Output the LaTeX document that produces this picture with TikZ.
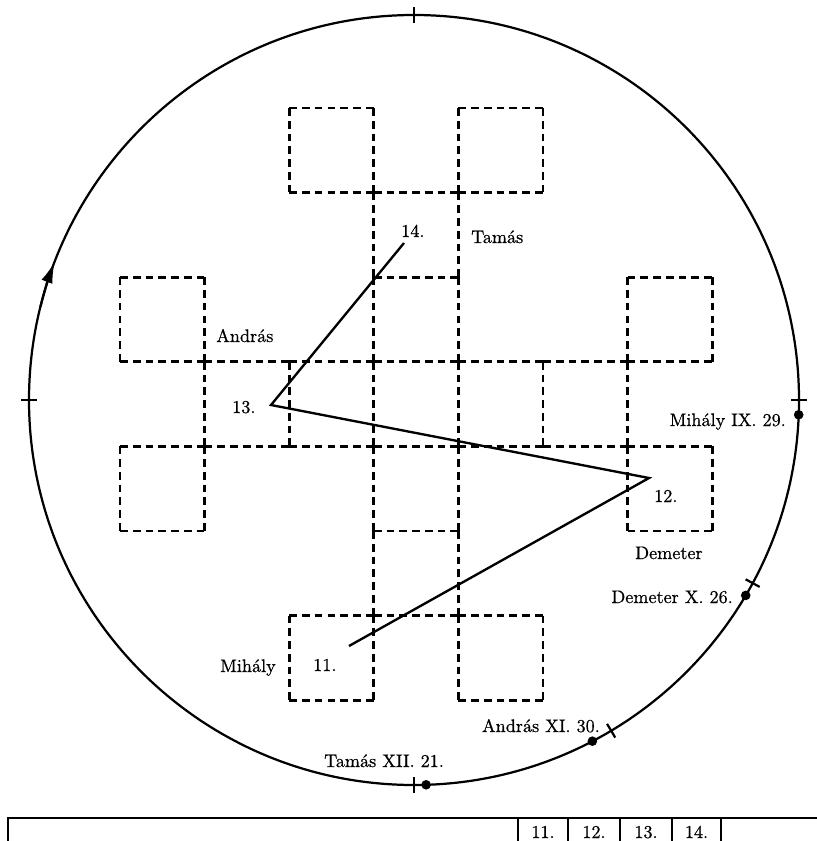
\documentclass[tikz,border=0pt]{standalone}
\usepackage{fontspec}
\newfontfamily\lblfont{lmroman10-regular.otf}[FakeBold=0.6]
\usetikzlibrary{arrows.meta}
\begin{document}
\begin{tikzpicture}[x=0.03cm,y=-0.03cm,
  gridline/.style={line width=2.3pt,dash pattern=on 6.6pt off 4.3pt},
  rim/.style={line width=1.9pt},
  route/.style={line width=2pt,line join=miter},
  lbl/.style={inner sep=0pt,font=\lblfont\fontsize{15.5}{18}\selectfont},
  dotmark/.style={fill=black},
  tablel/.style={line width=2.3pt}]
\useasboundingbox (0,0) rectangle (817,841);
% grid: horizontal unit edges (row j, column i)
\foreach \j/\i in {0/2,0/4,
  1/2,1/3,1/4,
  2/0,2/3,2/6,
  3/0,3/1,3/2,3/3,3/4,3/5,3/6,
  4/0,4/1,4/2,4/3,4/4,4/5,4/6,
  5/0,5/3,5/6,
  6/2,6/3,6/4,
  7/2,7/4}
  \draw[gridline] ({120+84.6*\i},{108+84.6*\j}) -- ++(84.6,0);
% grid: vertical unit edges (column i, row j)
\foreach \i/\j in {0/2,0/4,
  1/2,1/3,1/4,
  2/0,2/3,2/6,
  3/0,3/1,3/2,3/3,3/4,3/5,3/6,
  4/0,4/1,4/2,4/3,4/4,4/5,4/6,
  5/0,5/3,5/6,
  6/2,6/3,6/4,
  7/2,7/4}
  \draw[gridline] ({120+84.6*\i},{108+84.6*\j}) -- ++(0,84.6);
% rim circle
\coordinate (C) at (414,400);
\draw[rim] (C) circle[radius=385];
\draw[rim,-{Latex[length=18pt,width=10pt]}] (C) ++(194:385) arc[start angle=194,end angle=201,radius=385];
% ticks
\foreach \a in {0,28.4,59.2,90,180,270}
  \draw[rim] (C) ++(\a:377) -- ++(\a:16);
% dots
\foreach \a in {2.2,30.5,62.4,88.2}
  \fill[dotmark] (C) ++(\a:385) circle[radius=4.8];
% route
\coordinate (p11) at (349,646);
\coordinate (p12) at (649,478);
\coordinate (p13) at (271,405);
\coordinate (p14) at (404,243);
\draw[route] (p11) -- (p12) -- (p13) -- (p14);
% labels
\node[lbl,anchor=base west] (n11) at (313,671) {11.};
\node[lbl,anchor=base west] (n12) at (654,502) {12.};
\node[lbl,anchor=base west] (n13) at (232,413) {13.};
\node[lbl,anchor=base west] (n14) at (401,237) {14.};
\node[lbl,anchor=base west] (tamas) at (471,243) {Tamás};
\node[lbl,anchor=base west] (andras) at (216,342) {András};
\node[lbl,anchor=base west] (mihaly) at (220,672) {Mihály};
\node[lbl,anchor=base west] (demeter) at (635,559) {Demeter};
\node[lbl,anchor=base east] (dmihaly) at (786,426) {Mihály IX. 29.};
\node[lbl,anchor=base east] (ddemeter) at (733,603) {Demeter X. 26.};
\node[lbl,anchor=base east] (dandras) at (600,732) {András XI. 30.};
\node[lbl,anchor=base west] (dtamas) at (324,767) {Tamás XII. 21.};
% table
\draw[tablel] (8,845) -- (8,818) -- (820,818);
\foreach \x in {518,568,620,672,721}
  \draw[tablel] (\x,818) -- (\x,845);
\node[lbl,anchor=base] (t11) at (543,838) {11.};
\node[lbl,anchor=base] (t12) at (594,838) {12.};
\node[lbl,anchor=base] (t13) at (646,838) {13.};
\node[lbl,anchor=base] (t14) at (696.5,838) {14.};
\end{tikzpicture}
\end{document}
